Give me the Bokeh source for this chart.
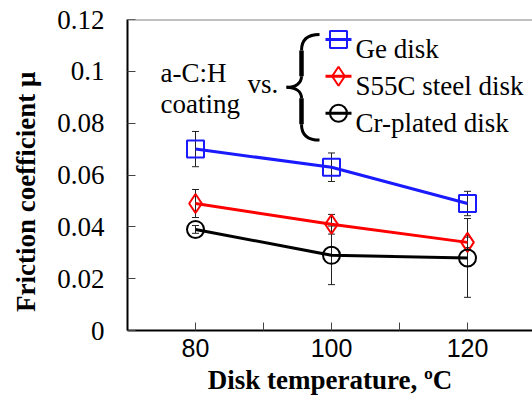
from bokeh.plotting import figure
from bokeh.models import FixedTicker, Span, ColumnDataSource, Whisker, TeeHead, Label
from bokeh.embed import file_html
from bokeh.resources import INLINE

# ---- data ----
temps = [80, 100, 120]
ge_mu = [0.070, 0.063, 0.049]
ge_err = [0.0068, 0.0055, 0.0047]
s55c_mu = [0.049, 0.041, 0.034]
s55c_err = [0.0054, 0.0038, 0.0020]
cr_mu = [0.039, 0.029, 0.028]
cr_err = [0.0015, 0.0113, 0.0152]
series_names = ["Ge disk", "S55C steel disk", "Cr-plated disk"]
series_colors = ["#1a1aff", "#ff0000", "#000000"]
series_markers = ["square", "diamond", "circle"]
y_ticks = [0, 0.02, 0.04, 0.06, 0.08, 0.1, 0.12]
y_tick_labels = ["0", "0.02", "0.04", "0.06", "0.08", "0.1", "0.12"]
x_major = [80, 100, 120]
x_minor = [70, 90, 110, 130]

SERIF = "Liberation Serif"
FS = "27px"

W, H = 532, 397
L, R, T, B = 127, 0, 19, 66
X0, X1 = 70, 70 + (W - L - R) / 6.8
Y0, Y1 = 0, 0.12

p = figure(width=W, height=H, output_backend="svg", toolbar_location=None,
           x_range=(X0, X1), y_range=(Y0, Y1),
           min_border_left=L, min_border_right=R, min_border_top=T, min_border_bottom=B)
p.outline_line_color = None
p.grid.grid_line_color = None
p.background_fill_color = "white"
p.border_fill_color = "white"

# pixel -> data helpers for decorations
def px(x):
    return X0 + (x - L) / (W - L - R) * (X1 - X0)

def py(y):
    return Y0 + (H - B - y) / (H - B - T) * (Y1 - Y0)

# axes
xa = p.xaxis[0]
xa.ticker = FixedTicker(ticks=x_major, minor_ticks=x_minor)
xa.axis_line_width = 2
xa.axis_line_color = "black"
xa.major_tick_in = 8
xa.major_tick_out = 0
xa.minor_tick_in = 8
xa.minor_tick_out = 0
xa.major_tick_line_color = "#444444"
xa.minor_tick_line_color = "#444444"
xa.major_label_text_font = "Liberation Sans"
xa.major_label_text_font_size = "25px"
xa.major_label_text_color = "black"
xa.major_label_standoff = 8
xa.axis_label = "Disk temperature, \u00baC"
xa.axis_label_text_font = SERIF
xa.axis_label_text_font_style = "bold"
xa.axis_label_text_font_size = FS
xa.axis_label_text_color = "black"
xa.axis_label_standoff = 5

ya = p.yaxis[0]
ya.ticker = FixedTicker(ticks=y_ticks, minor_ticks=[])
ya.major_label_overrides = {t: s for t, s in zip(y_ticks, y_tick_labels)}
ya.axis_line_width = 2
ya.axis_line_color = "black"
ya.major_tick_in = 8
ya.major_tick_out = 0
ya.major_tick_line_color = "#444444"
ya.major_label_text_font = SERIF
ya.major_label_text_font_size = FS
ya.major_label_text_color = "black"
ya.major_label_standoff = 23
ya.axis_label = "Friction coefficient \u03bc" + "\u00a0" * 5
ya.axis_label_text_font = SERIF
ya.axis_label_text_font_style = "bold"
ya.axis_label_text_font_size = FS
ya.axis_label_text_color = "black"
ya.axis_label_standoff = 13

p.add_layout(Span(location=Y1, dimension="width", line_color="#808080", line_width=2))

# series
all_vals = [ge_mu, s55c_mu, cr_mu]
all_errs = [ge_err, s55c_err, cr_err]
for vals, errs, col, mk in zip(all_vals, all_errs, series_colors, series_markers):
    src = ColumnDataSource(dict(x=temps, y=vals,
                                lo=[v - e for v, e in zip(vals, errs)],
                                hi=[v + e for v, e in zip(vals, errs)]))
    p.line("x", "y", source=src, line_color=col, line_width=3)
    p.add_layout(Whisker(source=src, base="x", lower="lo", upper="hi",
                         line_color="#222222", line_width=1,
                         lower_head=TeeHead(size=7, line_color="#222222", line_width=1),
                         upper_head=TeeHead(size=7, line_color="#222222", line_width=1)))
    p.scatter("x", "y", source=src, marker=mk, size=17 if mk != "diamond" else 19,
              fill_color=None, line_color=col, line_width=2)

# annotation text
for txt, x, y in [("a-C:H", 160, 73), ("coating", 160, 104), ("vs.", 247, 84)]:
    p.add_layout(Label(x=px(x), y=py(y), text=txt, text_font=SERIF, text_font_size=FS,
                       text_color="black", text_baseline="alphabetic"))

# brace
bx = [(319, 34, 301, 50, 306, 34, 301, 40),
      (301, 76, 286, 87, 301, 83, 295, 87),
      (286, 87, 301, 98, 295, 87, 301, 91),
      (301, 124, 319, 140, 301, 134, 306, 140)]
p.bezier(x0=[px(b[0]) for b in bx], y0=[py(b[1]) for b in bx],
         x1=[px(b[2]) for b in bx], y1=[py(b[3]) for b in bx],
         cx0=[px(b[4]) for b in bx], cy0=[py(b[5]) for b in bx],
         cx1=[px(b[6]) for b in bx], cy1=[py(b[7]) for b in bx],
         line_color="black", line_width=3)
p.segment(x0=[px(301), px(301)], y0=[py(50), py(98)], x1=[px(301), px(301)], y1=[py(76), py(124)],
          line_color="black", line_width=4.5)

# legend
rows = [39, 76, 113]
for name, col, mk, r in zip(series_names, series_colors, series_markers, rows):
    p.segment(x0=[px(325)], y0=[py(r)], x1=[px(351)], y1=[py(r)], line_color=col, line_width=3)
    p.scatter(x=[px(338)], y=[py(r)], marker=mk, size=17 if mk != "diamond" else 19,
              fill_color=None, line_color=col, line_width=2)
    p.add_layout(Label(x=px(355), y=py(r + 10), text=name, text_font=SERIF, text_font_size=FS,
                       text_color="black", text_baseline="alphabetic"))

open("out.html", "w").write(file_html(p, INLINE))
